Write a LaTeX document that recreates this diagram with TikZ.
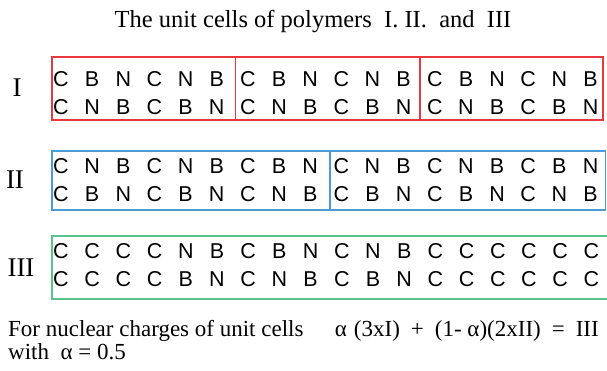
\documentclass[tikz,border=0pt]{standalone}
\usepackage{fontspec}
\setmainfont{Liberation Serif}
\newfontfamily\atomfont{Liberation Sans}
\definecolor{cellred}{HTML}{E8383D}
\definecolor{cellblue}{HTML}{4A9BD6}
\definecolor{cellgreen}{HTML}{5CC28C}
\tikzset{
  atom/.style={font=\atomfont\fontsize{21.5}{21.5}\selectfont, inner sep=0pt, anchor=center},
  polylabel/.style={font=\fontsize{27}{27}\selectfont, inner sep=0pt, anchor=center},
  cellbox/.style={line width=1.3pt},
  relation/.style={font=\fontsize{23}{23}\selectfont, inner sep=0pt}
}
\begin{document}
\begin{tikzpicture}[x=1pt, y=-1pt]
  \useasboundingbox (0,0) rectangle (607,371);
  \node[font=\fontsize{24.5}{24.5}\selectfont, inner sep=0pt] (title) at (313,22)
    {The unit cells of polymers\ \ I.\ II.\ \ and\ \ III};
  % polymer I
  \node[polylabel] (lblI) at (17,88) {I};
  \draw[cellbox, cellred] (52,57) rectangle (603,120);
  \draw[cellbox, cellred] (235.5,57) -- (235.5,120);
  \draw[cellbox, cellred] (420,57) -- (420,120);
  \foreach \a [count=\i from 0] in {C,B,N,C,N,B,C,B,N,C,N,B,C,B,N,C,N,B}
    \node[atom] (Ia\i) at (61+31.15*\i,79.5) {\a};
  \foreach \a [count=\i from 0] in {C,N,B,C,B,N,C,N,B,C,B,N,C,N,B,C,B,N}
    \node[atom] (Ib\i) at (61+31.15*\i,107) {\a};
  % polymer II
  \node[polylabel] (lblII) at (15,180) {II};
  \draw[cellbox, cellblue] (52,151) rectangle (605.5,210);
  \draw[cellbox, cellblue] (330,151) -- (330,210);
  \foreach \a [count=\i from 0] in {C,N,B,C,N,B,C,B,N,C,N,B,C,N,B,C,B,N}
    \node[atom] (IIa\i) at (61+31.15*\i,166) {\a};
  \foreach \a [count=\i from 0] in {C,B,N,C,B,N,C,N,B,C,B,N,C,B,N,C,N,B}
    \node[atom] (IIb\i) at (61+31.15*\i,194.5) {\a};
  % polymer III
  \node[polylabel] (lblIII) at (21,268) {III};
  \draw[cellbox, cellgreen] (52,236) rectangle (612,299);
  \foreach \a [count=\i from 0] in {C,C,C,C,N,B,C,B,N,C,N,B,C,C,C,C,C,C}
    \node[atom] (IIIa\i) at (61+31.2*\i,251.5) {\a};
  \foreach \a [count=\i from 0] in {C,C,C,C,B,N,C,N,B,C,B,N,C,C,C,C,C,C}
    \node[atom] (IIIb\i) at (61+31.2*\i,279.5) {\a};
  % relation
  \node[relation, anchor=base west] (note) at (8,336)
    {For nuclear charges of unit cells};
  \node[relation, anchor=base east] (formula) at (599,336)
    {α\hspace{7pt}(3xI)\hspace{11pt}+\hspace{11pt}(1- α)(2xII)\hspace{11pt}=\hspace{11pt}III};
  \node[relation, anchor=base west] (alpha) at (8,359)
    {with\ \ α = 0.5};
\end{tikzpicture}
\end{document}
